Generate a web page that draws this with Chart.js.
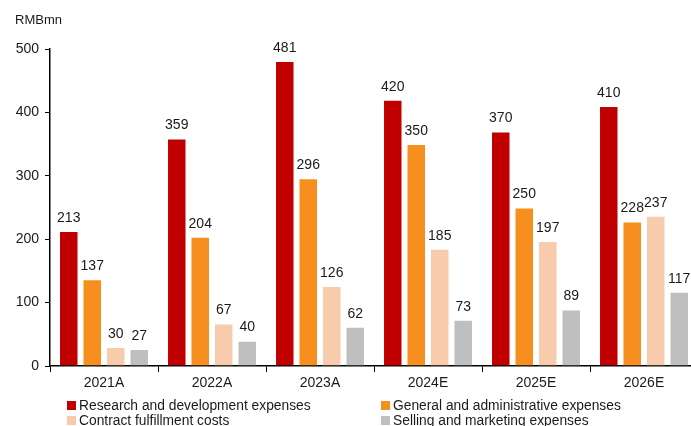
<!DOCTYPE html>
<html><head><meta charset="utf-8">
<script src="https://cdn.jsdelivr.net/npm/chart.js@4"></script>
<style>
html,body{margin:0;padding:0;overflow:hidden;background:#fff;width:691px;height:426px;}
#wrap{position:relative;width:700px;height:426px;font-family:"Liberation Sans",Arial,sans-serif;color:#1a1a1a;}
#c{position:absolute;left:0;top:0;}
#unit{position:absolute;left:15px;top:12px;font-size:13px;}
.lg{position:absolute;font-size:13.8px;line-height:15px;white-space:nowrap;}
.lg span{display:inline-block;width:9px;height:9px;margin-right:3px;vertical-align:0px;}
</style></head>
<body><div id="wrap">
<canvas id="c" width="700" height="426"></canvas>
<div id="unit">RMBmn</div>
<div id="legend"></div>
</div>
<script>
const categories = ["2021A","2022A","2023A","2024E","2025E","2026E"];
const seriesNames = ["Research and development expenses","General and administrative expenses","Contract fulfillment costs","Selling and marketing expenses"];
const rdValues = [213,359,481,420,370,410];
const gaValues = [137,204,296,350,250,228];
const contractValues = [30,67,126,185,197,237];
const sellingValues = [27,40,62,73,89,117];
const yTicks = [0,100,200,300,400,500];

const colors = ["#C00000","#F78F1E","#F8CBAD","#BFBFBF"];
const allValues = [rdValues,gaValues,contractValues,sellingValues];

const legendPos = [[67,398],[381,398],[67,413],[381,413]];
const lg = document.getElementById('legend');
seriesNames.forEach((n,i)=>{
  const d=document.createElement('div');d.className='lg';
  d.style.left=legendPos[i][0]+'px';d.style.top=legendPos[i][1]+'px';
  d.innerHTML='<span style="background:'+colors[i]+'"></span>'+n;
  lg.appendChild(d);
});

const labelPlugin = {
  id:'vals',
  afterDatasetsDraw(chart){
    const ctx=chart.ctx;ctx.save();
    ctx.font='14px "Liberation Sans", Arial, sans-serif';
    ctx.fillStyle='#1a1a1a';ctx.textAlign='center';ctx.textBaseline='bottom';
    chart.data.datasets.forEach((ds,i)=>{
      chart.getDatasetMeta(i).data.forEach((el,j)=>{
        ctx.fillText(String(ds.data[j]), el.x, el.y-6);
      });
    });
    ctx.restore();
  }
};

new Chart(document.getElementById('c'),{
  type:'bar',
  data:{labels:categories,datasets:allValues.map((v,i)=>({
    label:seriesNames[i],data:v,backgroundColor:colors[i],
    borderColor:'rgba(255,255,255,0.35)',borderWidth:1,
    categoryPercentage:0.87,barPercentage:0.83
  }))},
  options:{
    responsive:false,animation:false,
    layout:{padding:{top:49,right:2,bottom:34,left:0}},
    plugins:{legend:{display:false},tooltip:{enabled:false}},
    scales:{
      x:{
        grid:{display:true,drawOnChartArea:false,color:'#000',tickLength:6,offset:true},
        border:{color:'#000',width:1.5},
        ticks:{color:'#1a1a1a',font:{family:'"Liberation Sans", Arial, sans-serif',size:14},padding:3,maxRotation:0},
        afterFit(s){s.height=26;}
      },
      y:{
        min:0,max:500,
        afterBuildTicks(s){s.ticks=yTicks.map(v=>({value:v}));},
        grid:{display:true,drawOnChartArea:false,color:'#000',tickLength:5},
        border:{color:'#000',width:1.5},
        ticks:{color:'#1a1a1a',font:{family:'"Liberation Sans", Arial, sans-serif',size:14},padding:6},
        afterFit(s){s.width=50;}
      }
    }
  },
  plugins:[labelPlugin]
});
</script>
</body></html>
